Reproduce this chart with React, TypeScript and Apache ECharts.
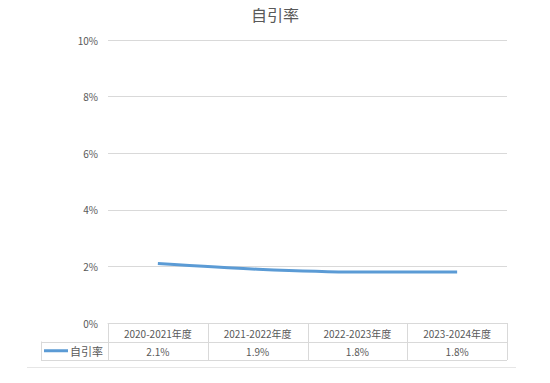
import React, { useEffect, useRef } from "react";
import * as echarts from "echarts";

const categories = ["2020-2021年度", "2021-2022年度", "2022-2023年度", "2023-2024年度"];
const seriesName = "自引率";
const values = [2.1, 1.9, 1.8, 1.8];
const yMin = 0;
const yMax = 10;
const yInterval = 2;

const FONT = "'Noto Sans CJK SC', 'Microsoft YaHei', sans-serif";
const TEXT = "#595959";
const BORDER = "#d9d9d9";
const BLUE = "#5B9BD5";

export default function App() {
  const ref = useRef<HTMLDivElement>(null);
  useEffect(() => {
    if (!ref.current) return;
    const chart = echarts.init(ref.current, null, { renderer: "svg" });
    const W = 550, H = 383;
    const left = 108, right = 507, top = 40, bottom = 323;
    const rowH = 18.5;
    const r1 = bottom + rowH;
    const r2 = r1 + rowH;
    const tableLeft = 41;
    const colW = (right - left) / categories.length;
    const lineStyle = { stroke: BORDER, lineWidth: 1 };
    const graphics: any[] = [];
    for (let i = 0; i <= categories.length; i++) {
      const x = Math.round(left + i * colW) + 0.5;
      graphics.push({ type: "line", shape: { x1: x, y1: bottom, x2: x, y2: r2 }, style: lineStyle, silent: true });
    }
    graphics.push({ type: "line", shape: { x1: tableLeft + 0.5, y1: r1, x2: tableLeft + 0.5, y2: r2 }, style: lineStyle });
    graphics.push({ type: "line", shape: { x1: tableLeft, y1: Math.round(r1) + 0.5, x2: right, y2: Math.round(r1) + 0.5 }, style: lineStyle });
    graphics.push({ type: "line", shape: { x1: tableLeft, y1: Math.round(r2) + 0.5, x2: right, y2: Math.round(r2) + 0.5 }, style: lineStyle });
    graphics.push({ type: "line", shape: { x1: 27, y1: 367.5, x2: 516, y2: 367.5 }, style: { stroke: "#e6e6e6", lineWidth: 1 } });
    const midR = (r1 + r2) / 2;
    graphics.push({ type: "line", shape: { x1: 44, y1: midR, x2: 68, y2: midR }, style: { stroke: BLUE, lineWidth: 3 } });
    graphics.push({
      type: "text", x: 70, y: midR,
      style: { text: seriesName, fill: TEXT, font: `11px ${FONT}`, verticalAlign: "middle", align: "left" },
    });

    chart.setOption({
      animation: false,
      title: {
        text: seriesName, left: "center", top: 1,
        textStyle: { fontFamily: FONT, fontSize: 16, fontWeight: "normal", color: TEXT },
      },
      grid: { left, right: W - right, top, bottom: H - bottom, containLabel: false },
      xAxis: [
        {
          type: "category", data: categories, boundaryGap: true,
          axisLine: { show: true, lineStyle: { color: BORDER } },
          axisTick: { show: false },
          axisLabel: { color: TEXT, fontFamily: FONT, fontSize: 10, margin: 10, verticalAlign: "middle", interval: 0 },
        },
        {
          type: "category", data: values.map((v) => v.toFixed(1) + "%"), position: "bottom", offset: rowH,
          axisLine: { show: false }, axisTick: { show: false },
          axisLabel: { color: TEXT, fontFamily: FONT, fontSize: 10, margin: 10, verticalAlign: "middle", interval: 0 },
        },
      ],
      yAxis: {
        type: "value", min: yMin, max: yMax, interval: yInterval,
        axisLine: { show: false }, axisTick: { show: false },
        axisLabel: { formatter: "{value}%", color: TEXT, fontFamily: FONT, fontSize: 10, margin: 10 },
        splitLine: { lineStyle: { color: BORDER } },
      },
      series: [
        {
          name: seriesName, type: "line", data: values, xAxisIndex: 0, smooth: 0.3,
          showSymbol: false, symbol: "none",
          lineStyle: { color: BLUE, width: 3 }, itemStyle: { color: BLUE },
        },
      ],
      graphic: graphics,
    });
    return () => chart.dispose();
  }, []);
  return <div ref={ref} style={{ width: 550, height: 383, margin: -8 }} />;
}
